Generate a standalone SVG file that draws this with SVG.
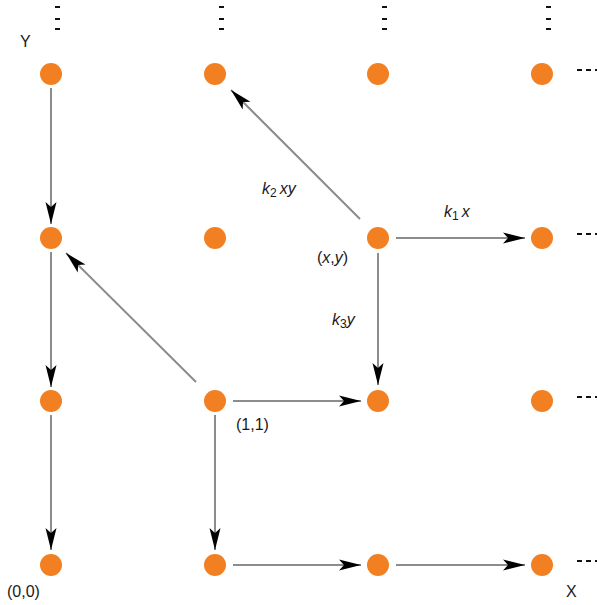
<svg xmlns="http://www.w3.org/2000/svg" width="597" height="605" viewBox="0 0 597 605">
<style>
.dot{fill:#F28022}
.edge{stroke:#8c8c8c;stroke-width:2;fill:none}
.lbl{font-family:"Liberation Sans",Arial,sans-serif;font-size:16px;fill:#1a1a1a}
.it{font-style:italic}
.sub{font-size:12px;font-style:normal}
.dash{fill:#111}
</style>
<defs>
<marker id="ah" markerUnits="userSpaceOnUse" markerWidth="24" markerHeight="12" refX="22" refY="6" orient="auto">
<path d="M0,0.5 L22,6 L0,11.5 L5,6 Z" fill="#000"/>
</marker>
</defs>
<rect width="597" height="605" fill="#fff"/>
<g id="connectors">
<line class="edge" x1="51" y1="88" x2="51" y2="224" marker-end="url(#ah)"/>
<line class="edge" x1="51" y1="252" x2="51" y2="387" marker-end="url(#ah)"/>
<line class="edge" x1="51" y1="415" x2="51" y2="550" marker-end="url(#ah)"/>
<line class="edge" x1="196" y1="382" x2="66" y2="253" marker-end="url(#ah)"/>
<line class="edge" x1="233" y1="401" x2="361" y2="401" marker-end="url(#ah)"/>
<line class="edge" x1="215" y1="415" x2="215" y2="550" marker-end="url(#ah)"/>
<line class="edge" x1="233" y1="565" x2="361" y2="565" marker-end="url(#ah)"/>
<line class="edge" x1="396" y1="565" x2="525" y2="565" marker-end="url(#ah)"/>
<line class="edge" x1="396" y1="238" x2="525" y2="238" marker-end="url(#ah)"/>
<line class="edge" x1="378" y1="253" x2="378" y2="385" marker-end="url(#ah)"/>
<line class="edge" x1="360" y1="219" x2="231" y2="90" marker-end="url(#ah)"/>
</g>
<g id="n00"><circle class="dot" cx="51" cy="565" r="11"/></g>
<g id="n10"><circle class="dot" cx="215" cy="565" r="11"/></g>
<g id="n20"><circle class="dot" cx="378" cy="565" r="11"/></g>
<g id="n30"><circle class="dot" cx="542" cy="565" r="11"/></g>
<g id="n01"><circle class="dot" cx="51" cy="401" r="11"/></g>
<g id="n11"><circle class="dot" cx="215" cy="401" r="11"/></g>
<g id="n21"><circle class="dot" cx="378" cy="401" r="11"/></g>
<g id="n31"><circle class="dot" cx="542" cy="401" r="11"/></g>
<g id="n02"><circle class="dot" cx="51" cy="238" r="11"/></g>
<g id="n12"><circle class="dot" cx="215" cy="238" r="11"/></g>
<g id="n22"><circle class="dot" cx="378" cy="238" r="11"/></g>
<g id="n32"><circle class="dot" cx="542" cy="238" r="11"/></g>
<g id="n03"><circle class="dot" cx="51" cy="74" r="11"/></g>
<g id="n13"><circle class="dot" cx="215" cy="74" r="11"/></g>
<g id="n23"><circle class="dot" cx="378" cy="74" r="11"/></g>
<g id="n33"><circle class="dot" cx="542" cy="74" r="11"/></g>
<g id="ellipsis">
<rect class="dash" x="55" y="6" width="5" height="2"/><rect class="dash" x="55" y="18" width="5" height="2"/><rect class="dash" x="55" y="28" width="5" height="2"/>
<rect class="dash" x="219" y="6" width="5" height="2"/><rect class="dash" x="219" y="18" width="5" height="2"/><rect class="dash" x="219" y="28" width="5" height="2"/>
<rect class="dash" x="382" y="6" width="5" height="2"/><rect class="dash" x="382" y="18" width="5" height="2"/><rect class="dash" x="382" y="28" width="5" height="2"/>
<rect class="dash" x="546" y="6" width="5" height="2"/><rect class="dash" x="546" y="18" width="5" height="2"/><rect class="dash" x="546" y="28" width="5" height="2"/>
<rect class="dash" x="577" y="69" width="5" height="2"/><rect class="dash" x="586" y="69" width="5" height="2"/><rect class="dash" x="595" y="69" width="2" height="2"/>
<rect class="dash" x="577" y="233" width="5" height="2"/><rect class="dash" x="586" y="233" width="5" height="2"/><rect class="dash" x="595" y="233" width="2" height="2"/>
<rect class="dash" x="577" y="396" width="5" height="2"/><rect class="dash" x="586" y="396" width="5" height="2"/><rect class="dash" x="595" y="396" width="2" height="2"/>
<rect class="dash" x="577" y="560" width="5" height="2"/><rect class="dash" x="586" y="560" width="5" height="2"/><rect class="dash" x="595" y="560" width="2" height="2"/>
</g>
<g id="labels">
<text class="lbl" x="20" y="47">Y</text>
<text class="lbl" x="566" y="597">X</text>
<text class="lbl" x="7" y="597">(0,0)</text>
<text class="lbl" x="236" y="430">(1,1)</text>
<text class="lbl" x="317" y="263">(<tspan class="it">x</tspan>,<tspan class="it">y</tspan>)</text>
<text class="lbl it" x="262" y="194">k<tspan class="sub" dy="3">2</tspan><tspan dy="-3" dx="3">xy</tspan></text>
<text class="lbl it" x="444" y="217">k<tspan class="sub" dy="3">1</tspan><tspan dy="-3" dx="3">x</tspan></text>
<text class="lbl it" x="332" y="325">k<tspan class="sub" dy="3">3</tspan><tspan dy="-3">y</tspan></text>
</g>
</svg>
